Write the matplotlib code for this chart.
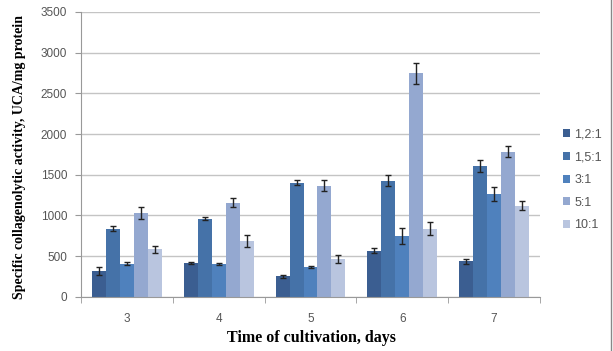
import matplotlib
matplotlib.use("Agg")
import matplotlib.pyplot as plt
import numpy as np
from matplotlib.lines import Line2D

days = ["3", "4", "5", "6", "7"]
series_names = ["1,2:1", "1,5:1", "3:1", "5:1", "10:1"]
values = {
    "1,2:1": [313, 415, 250, 565, 435],
    "1,5:1": [836, 958, 1402, 1424, 1608],
    "3:1":   [407, 399, 369, 742, 1262],
    "5:1":   [1026, 1154, 1366, 2747, 1782],
    "10:1":  [583, 685, 460, 836, 1118],
}
errors = {
    "1,2:1": [48, 16, 20, 28, 30],
    "1,5:1": [32, 16, 30, 68, 74],
    "3:1":   [18, 10, 14, 100, 84],
    "5:1":   [75, 55, 70, 127, 66],
    "10:1":  [46, 72, 50, 80, 54],
}
colors = ["#3b5e91", "#4572a8", "#4f81bd", "#94a8d0", "#b9c5df"]

fig = plt.figure(figsize=(6.13, 3.51), dpi=100)
ax = fig.add_axes([81/613, 1-296.7/351, (540-81)/613, (296.7-12)/351])

x = np.arange(len(days))
bw = 0.152
for i, name in enumerate(series_names):
    pos = x + (i - 2) * bw
    ax.bar(pos, values[name], width=bw, color=colors[i], label=name, zorder=2)
    ax.errorbar(pos, values[name], yerr=errors[name], fmt="none",
                ecolor="#222222", elinewidth=1.0, capsize=2.5, capthick=1.0, zorder=3)

ax.set_ylim(0, 3500)
ax.set_xlim(-0.5, len(days) - 0.5)
ax.set_yticks(np.arange(0, 3501, 500))
ax.yaxis.grid(True, color="#c4c4c4", linewidth=1.0, zorder=0)
ax.set_axisbelow(True)

ax.set_xticks(x)
ax.set_xticklabels(days)
ax.set_xticks(np.arange(-0.5, len(days), 1.0), minor=True)
ax.tick_params(axis="x", which="major", length=0, pad=12, labelsize=8.5, labelcolor="#555555")
ax.tick_params(axis="x", which="minor", length=4, color="#999999", direction="out")
ax.tick_params(axis="y", which="major", length=4, color="#999999", labelsize=8.5,
               labelcolor="#555555", pad=6)
for lbl in ax.get_xticklabels() + ax.get_yticklabels():
    lbl.set_family("Liberation Sans")

for s in ["top", "right"]:
    ax.spines[s].set_visible(False)
ax.spines["left"].set_color("#999999")
ax.spines["bottom"].set_color("#999999")

fig.text(311/613, 1-338/351, "Time of cultivation, days", family="Liberation Serif",
         fontweight="bold", fontsize=11.5, ha="center", va="center")
fig.text(20/613, 1-157/351, "Specific collagenolytic activity, UCA/mg protein",
         family="Liberation Serif", fontweight="bold", fontsize=10, rotation=90,
         ha="center", va="center")

leg = ax.legend(loc="center left", bbox_to_anchor=(1.05, 0.41), frameon=False,
                fontsize=9, handlelength=0.6, handleheight=0.6, handletextpad=0.3,
                labelspacing=0.85, borderaxespad=0, borderpad=0)
for t in leg.get_texts():
    t.set_color("#555555")
    t.set_family("Liberation Sans")

fig.add_artist(Line2D([611/613, 611/613], [0, 1], color="#888888", linewidth=1.0))

fig.savefig("out.png", dpi=100)
